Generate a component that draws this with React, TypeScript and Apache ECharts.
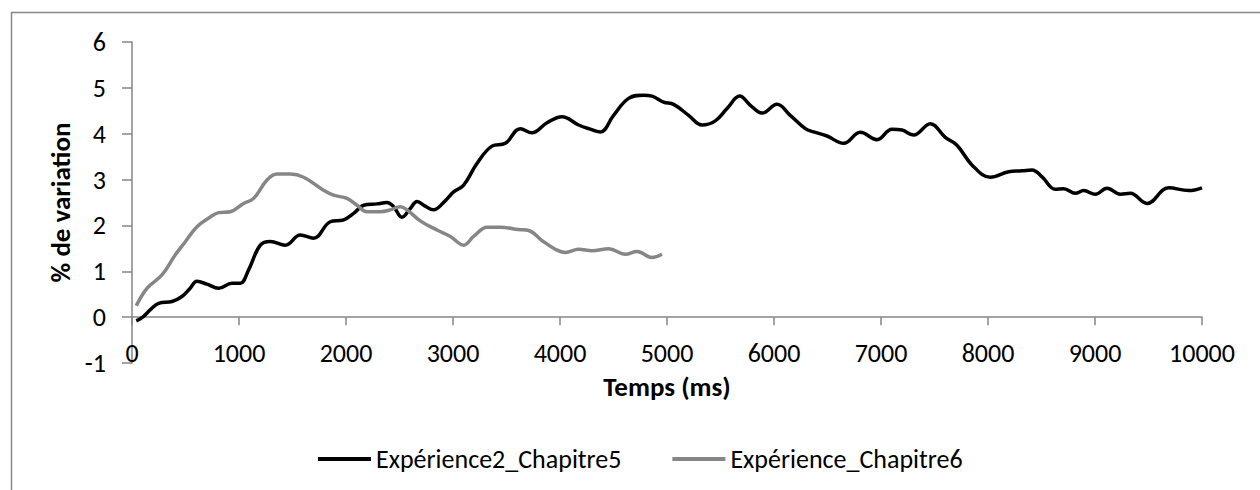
import React, { useEffect, useRef } from "react";
import * as echarts from "echarts";

const xTicks = [0, 1000, 2000, 3000, 4000, 5000, 6000, 7000, 8000, 9000, 10000];
const yTicks = [-1, 0, 1, 2, 3, 4, 5, 6];

const seriesNames = ["Expérience2_Chapitre5", "Expérience_Chapitre6"];

const exp2Time = [
  40, 100, 180, 249, 374, 467, 540, 607, 700, 810, 935, 1012, 1090, 1199, 1293, 1433, 1573, 1697, 1853, 1978,
  2080, 2165, 2290, 2383, 2445, 2523, 2601, 2664, 2740, 2819, 2920, 3006, 3100, 3224, 3364, 3489, 3629, 3738,
  3879, 4019, 4174, 4268, 4377, 4501, 4641, 4781, 4859, 4968, 5062, 5202, 5327, 5451, 5561, 5679, 5779, 5888,
  6028, 6152, 6293, 6370, 6495, 6651, 6807, 6963, 7103, 7196, 7305, 7461, 7601, 7710, 7850, 8022, 8193, 8318,
  8411, 8505, 8629, 8707, 8816, 8894, 9003, 9112, 9237, 9330, 9486, 9688, 9875, 10000,
];
const exp2Values = [
  -0.08, 0.0, 0.18, 0.3, 0.34, 0.45, 0.62, 0.78, 0.72, 0.63, 0.74, 0.74, 1.03, 1.57, 1.65, 1.57, 1.79, 1.72, 2.08, 2.12,
  2.28, 2.44, 2.47, 2.5, 2.41, 2.18, 2.37, 2.52, 2.42, 2.34, 2.52, 2.73, 2.88, 3.35, 3.73, 3.79, 4.11, 4.02,
  4.24, 4.37, 4.19, 4.11, 4.04, 4.4, 4.77, 4.84, 4.82, 4.69, 4.64, 4.4, 4.19, 4.28, 4.55, 4.82, 4.62, 4.45,
  4.64, 4.4, 4.11, 4.04, 3.95, 3.79, 4.03, 3.87, 4.1, 4.08, 3.97, 4.22, 3.92, 3.75, 3.32, 3.05, 3.17, 3.19,
  3.21, 3.06, 2.79, 2.8, 2.7, 2.76, 2.68, 2.81, 2.68, 2.7, 2.48, 2.82, 2.76, 2.82,
];

const exp6Time = [
  40, 140, 280, 405, 500, 607, 710, 810, 919, 1043, 1137, 1262, 1355, 1480, 1604, 1776, 1884, 2009, 2103, 2196,
  2321, 2414, 2508, 2570, 2694, 2850, 2975, 3100, 3193, 3318, 3442, 3613, 3707, 3832, 3956, 4050, 4174, 4299,
  4455, 4611, 4720, 4860, 4953,
];
const exp6Values = [
  0.25, 0.63, 0.92, 1.36, 1.65, 1.97, 2.15, 2.28, 2.3, 2.48, 2.59, 2.99, 3.12, 3.12, 3.05, 2.79, 2.66, 2.59, 2.44, 2.3,
  2.3, 2.34, 2.41, 2.34, 2.1, 1.9, 1.76, 1.57, 1.76, 1.96, 1.96, 1.91, 1.89, 1.67, 1.48, 1.41, 1.48, 1.45,
  1.49, 1.37, 1.43, 1.3, 1.37,
];

const FONT = "Carlito, Calibri, 'Open Sans', sans-serif";
const AXIS_GREY = "#868686";

export default function App() {
  const ref = useRef<HTMLDivElement>(null);

  useEffect(() => {
    document.body.style.margin = "0";
    if (!ref.current) return;
    const chart = echarts.init(ref.current, undefined, { renderer: "svg" });
    const pair = (xs: number[], ys: number[]) => xs.map((x, i) => [x, ys[i]]);
    chart.setOption({
      animation: false,
      backgroundColor: "#ffffff",
      textStyle: { fontFamily: FONT },
      grid: { left: 132, right: 58, top: 42, bottom: 127 },
      graphic: [
        {
          type: "rect",
          shape: { x: 11.5, y: 12.5, width: 1300, height: 600 },
          style: { fill: "none", stroke: AXIS_GREY, lineWidth: 1.5 },
          silent: true,
        },
      ],
      legend: {
        top: 441,
        left: 313,
        itemWidth: 53,
        itemHeight: 4,
        itemGap: 51,
        icon: "rect",
        textStyle: { fontFamily: FONT, fontSize: 26, color: "#000", padding: [0, 0, 0, 0] },
        data: seriesNames,
      },
      xAxis: {
        type: "value",
        min: xTicks[0],
        max: xTicks[xTicks.length - 1],
        interval: 1000,
        name: "Temps (ms)",
        nameLocation: "middle",
        nameGap: 23,
        nameTextStyle: { fontFamily: FONT, fontSize: 27, fontWeight: "bold", color: "#000", verticalAlign: "middle" },
        axisLine: { onZero: true, lineStyle: { color: AXIS_GREY, width: 1.5 } },
        axisTick: { show: true, length: 8, lineStyle: { color: AXIS_GREY, width: 1.5 } },
        axisLabel: {
          margin: -23,
          fontFamily: FONT,
          fontSize: 26,
          color: "#000",
          formatter: (v: number) => String(v),
        },
        splitLine: { show: false },
      },
      yAxis: {
        type: "value",
        min: yTicks[0],
        max: yTicks[yTicks.length - 1],
        interval: 1,
        name: "% de variation",
        nameLocation: "middle",
        nameRotate: 90,
        nameGap: 69,
        nameTextStyle: { fontFamily: FONT, fontSize: 27, fontWeight: "bold", color: "#000", verticalAlign: "middle" },
        axisLine: { show: true, lineStyle: { color: AXIS_GREY, width: 1.5 } },
        axisTick: { show: true, length: 10, lineStyle: { color: AXIS_GREY, width: 1.5 } },
        axisLabel: { margin: 26, fontFamily: FONT, fontSize: 26, color: "#000" },
        splitLine: { show: false },
      },
      series: [
        {
          name: seriesNames[0],
          type: "line",
          data: pair(exp2Time, exp2Values),
          smooth: 0.4,
          showSymbol: false,
          lineStyle: { color: "#000000", width: 3.5 },
          itemStyle: { color: "#000000" },
        },
        {
          name: seriesNames[1],
          type: "line",
          data: pair(exp6Time, exp6Values),
          smooth: 0.4,
          showSymbol: false,
          lineStyle: { color: "#868686", width: 3.5 },
          itemStyle: { color: "#868686" },
        },
      ],
    });
    return () => chart.dispose();
  }, []);

  return <div ref={ref} style={{ width: 1260, height: 490 }} />;
}
